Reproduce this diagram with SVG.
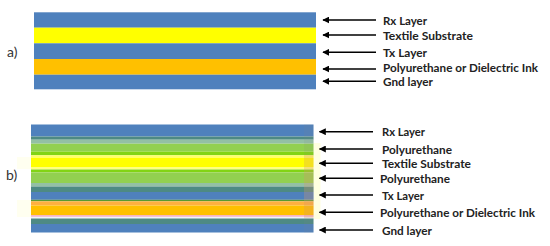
<svg xmlns="http://www.w3.org/2000/svg" width="550" height="246" viewBox="0 0 550 246">
<style>
.lbl{font-family:Lato,"Liberation Sans",sans-serif;font-weight:700;font-size:12px;fill:#222}
.tag{font-family:Lato,"Liberation Sans",sans-serif;font-size:14px;fill:#333}
.arr{stroke:#000;stroke-width:1.4;fill:none;marker-end:url(#ah)}
</style>
<defs>
<marker id="ah" viewBox="0 0 10 10" refX="9" refY="5" markerWidth="5" markerHeight="5" orient="auto" markerUnits="strokeWidth">
<path d="M0,0 L10,5 L0,10 z" fill="#000"/>
</marker>
</defs>
<rect width="550" height="246" fill="#fff"/>
<g id="stack-a">
<rect x="34" y="12.3" width="282" height="15.4" fill="#4f81bd"/>
<rect x="34" y="27.7" width="282" height="15.6" fill="#ffff00"/>
<rect x="34" y="43.3" width="282" height="15.7" fill="#4f81bd"/>
<rect x="34" y="59" width="282" height="15.7" fill="#ffc000"/>
<rect x="34" y="74.7" width="282" height="14.6" fill="#4f81bd"/>
</g>
<g id="stack-b">
<rect x="17" y="157" width="14" height="12" fill="#fffff0"/>
<rect x="17" y="200" width="14" height="17" fill="#fffff0"/>
<rect x="313.5" y="143" width="7" height="76" fill="#ffffe0"/>
<rect x="31" y="124.5" width="282.5" height="12" fill="#4f81bd"/>
<rect x="31" y="136.5" width="282.5" height="3.2" fill="#4e8a84"/>
<rect x="31" y="139.7" width="282.5" height="4" fill="#93c0a4"/>
<rect x="31" y="143.7" width="282.5" height="7.8" fill="#92d050"/>
<rect x="31" y="151.5" width="282.5" height="3.8" fill="#82d414"/>
<rect x="31" y="155.3" width="282.5" height="2.7" fill="#ffff66"/>
<rect x="31" y="158" width="282.5" height="9" fill="#ffff00"/>
<rect x="31" y="167" width="282.5" height="2.5" fill="#ffff80"/>
<rect x="31" y="169.5" width="282.5" height="3" fill="#82d414"/>
<rect x="31" y="172.5" width="282.5" height="10.5" fill="#92d050"/>
<rect x="31" y="183" width="282.5" height="3.5" fill="#93c0a4"/>
<rect x="31" y="186.5" width="282.5" height="5.5" fill="#4e8a84"/>
<rect x="31" y="192" width="282.5" height="7.8" fill="#4f81bd"/>
<rect x="31" y="199.8" width="282.5" height="1.5" fill="#5a9a30"/>
<rect x="31" y="201.3" width="282.5" height="4.2" fill="#ffb040"/>
<rect x="31" y="205.5" width="282.5" height="9.7" fill="#ffc000"/>
<rect x="31" y="215.2" width="282.5" height="1.6" fill="#f4a6c0"/>
<rect x="31" y="216.8" width="282.5" height="1.7" fill="#eef4f8"/>
<rect x="31" y="218.5" width="282.5" height="5.5" fill="#4e8a84"/>
<rect x="31" y="224" width="282.5" height="8.5" fill="#4f81bd"/>
<rect x="304" y="124.5" width="9.5" height="108" fill="#808080" opacity="0.12"/>
<rect x="304" y="155" width="9.5" height="63" fill="#ffa060" opacity="0.2"/>
</g>
<g id="labels-a">
<text class="tag" x="7" y="57">a)</text>
<text class="lbl" x="383" y="24.5" textLength="44" lengthAdjust="spacingAndGlyphs">Rx Layer</text>
<text class="lbl" x="383" y="39.5" textLength="90" lengthAdjust="spacingAndGlyphs">Textile Substrate</text>
<text class="lbl" x="383" y="56.5" textLength="44" lengthAdjust="spacingAndGlyphs">Tx Layer</text>
<text class="lbl" x="383" y="72" textLength="155" lengthAdjust="spacingAndGlyphs">Polyurethane or Dielectric Ink</text>
<text class="lbl" x="383" y="86" textLength="50" lengthAdjust="spacingAndGlyphs">Gnd layer</text>
</g>
<g id="labels-b">
<text class="tag" x="6" y="180">b)</text>
<text class="lbl" x="382" y="136" textLength="43" lengthAdjust="spacingAndGlyphs">Rx Layer</text>
<text class="lbl" x="382" y="153.5" textLength="70" lengthAdjust="spacingAndGlyphs">Polyurethane</text>
<text class="lbl" x="382" y="167.5" textLength="89" lengthAdjust="spacingAndGlyphs">Textile Substrate</text>
<text class="lbl" x="380" y="182.5" textLength="70" lengthAdjust="spacingAndGlyphs">Polyurethane</text>
<text class="lbl" x="382" y="199.5" textLength="42" lengthAdjust="spacingAndGlyphs">Tx Layer</text>
<text class="lbl" x="380" y="216.5" textLength="155" lengthAdjust="spacingAndGlyphs">Polyurethane or Dielectric Ink</text>
<text class="lbl" x="382" y="234.5" textLength="50" lengthAdjust="spacingAndGlyphs">Gnd layer</text>
</g>
<g id="connectors">
<line class="arr" x1="376" y1="20" x2="323" y2="20"/>
<line class="arr" x1="376" y1="35" x2="323" y2="35"/>
<line class="arr" x1="376" y1="52.3" x2="323" y2="52.3"/>
<line class="arr" x1="376" y1="69" x2="323" y2="69"/>
<line class="arr" x1="376" y1="81.3" x2="323" y2="81.3"/>
<line class="arr" x1="373" y1="131.7" x2="319.5" y2="131.7"/>
<line class="arr" x1="373" y1="149" x2="319.5" y2="149"/>
<line class="arr" x1="373" y1="163.3" x2="319.5" y2="163.3"/>
<line class="arr" x1="373" y1="178.3" x2="319.5" y2="178.3"/>
<line class="arr" x1="373" y1="195" x2="319.5" y2="195"/>
<line class="arr" x1="373" y1="212.3" x2="319.5" y2="212.3"/>
<line class="arr" x1="373" y1="230" x2="319.5" y2="230"/>
</g>
</svg>
